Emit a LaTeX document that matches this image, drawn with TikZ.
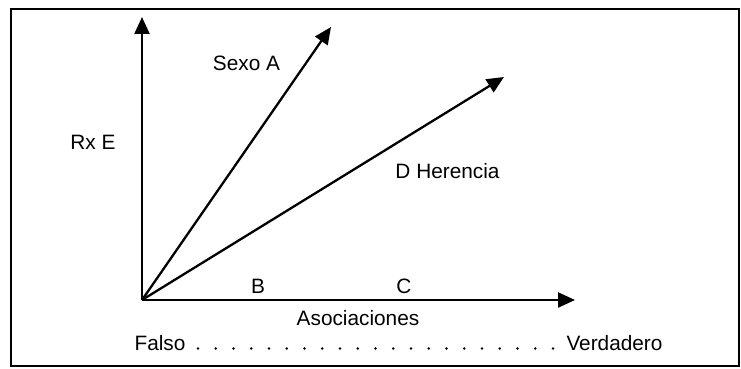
\documentclass[tikz,border=0pt]{standalone}
\usepackage{fontspec}
\setmainfont{Liberation Sans}
\usetikzlibrary{arrows.meta}
\begin{document}
\begin{tikzpicture}[x=1pt,y=-1pt,
    vec/.style={line width=2.3pt, -{Triangle[length=17pt,width=15pt]}},
    lbl/.style={font=\fontsize{20.8}{24}\selectfont, inner sep=0pt}]
    \useasboundingbox (0,0) rectangle (741,369);

    % frame
    \draw[line width=2.8pt] (11,9) rectangle (739,366);

    % origin and arrow ends
    \coordinate (O) at (142,300);
    \coordinate (rx) at (142,17);
    \coordinate (sexo) at (331,27);
    \coordinate (her) at (504,77);
    \coordinate (asoc) at (575,300);

    % vectors
    \draw[vec] (O) -- (rx);
    \draw[vec] (O) -- (sexo);
    \draw[vec] (O) -- (her);
    \draw[vec] (O) -- (asoc);

    % labels
    \node[lbl] (rxlbl) at (93,142) {Rx E};
    \node[lbl] (sexolbl) at (246.5,63) {Sexo A};
    \node[lbl] (herlbl) at (447.5,171) {D Herencia};
    \node[lbl] (blbl) at (258,286) {B};
    \node[lbl] (clbl) at (404,286) {C};
    \node[lbl] (asoclbl) at (358,318) {Asociaciones};

    % scale
    \node[lbl, anchor=base] (falso) at (160,350) {Falso};
    \node[lbl, anchor=base] (verdad) at (614.5,350) {Verdadero};
    \foreach \i in {0,...,20}
        \fill (198+17.75*\i,348.5) circle (1.4pt);
\end{tikzpicture}
\end{document}
